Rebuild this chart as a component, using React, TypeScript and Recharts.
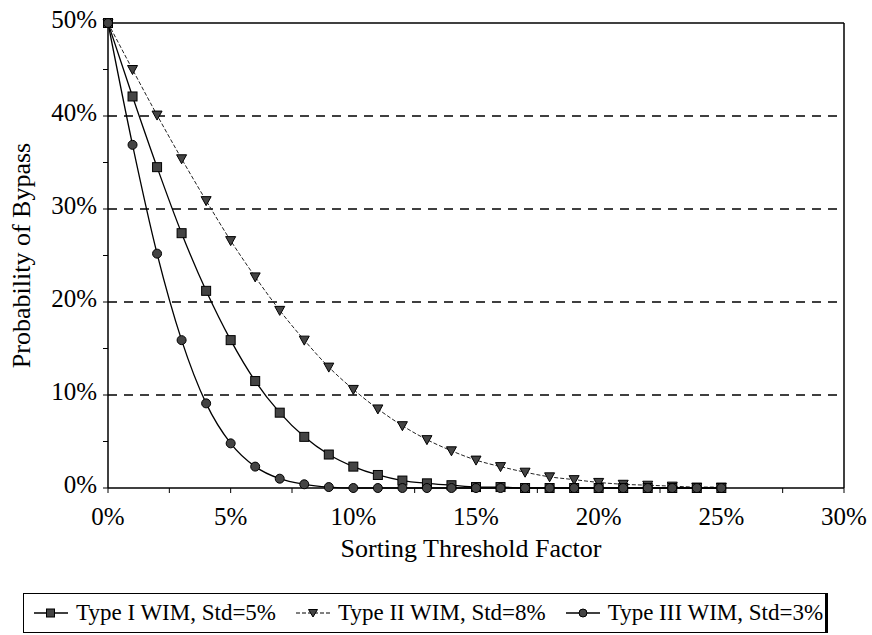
import React from 'react'
import { LineChart, Line, XAxis, YAxis, ReferenceLine } from 'recharts'

// sorting threshold factor (%)
const thresholds = [0, 1, 2, 3, 4, 5, 6, 7, 8, 9, 10, 11, 12, 13, 14, 15, 16, 17, 18, 19, 20, 21, 22, 23, 24, 25]

// probability of bypass (%)
const typeI = [50, 42.1, 34.5, 27.4, 21.2, 15.9, 11.5, 8.1, 5.5, 3.6, 2.3, 1.4, 0.8, 0.5, 0.3, 0.1, 0.1, 0, 0, 0, 0, 0, 0, 0, 0, 0]
const typeII = [50, 45.0, 40.1, 35.4, 30.9, 26.6, 22.7, 19.1, 15.9, 13.0, 10.6, 8.5, 6.7, 5.2, 4.0, 3.0, 2.3, 1.7, 1.2, 0.9, 0.6, 0.4, 0.3, 0.2, 0.1, 0.1]
const typeIII = [50, 36.9, 25.2, 15.9, 9.1, 4.8, 2.3, 1.0, 0.4, 0.1, 0, 0, 0, 0, 0, 0, 0, 0, 0, 0, 0, 0, 0, 0, 0, 0]

const seriesNames = ['Type I WIM, Std=5%', 'Type II WIM, Std=8%', 'Type III WIM, Std=3%']

const xTicks = [0, 2.5, 5, 7.5, 10, 12.5, 15, 17.5, 20, 22.5, 25, 27.5, 30]
const yTicks = [0, 5, 10, 15, 20, 25, 30, 35, 40, 45, 50]
const gridValues = [10, 20, 30, 40]

const data = thresholds.map((x, i) => ({ x, a: typeI[i], b: typeII[i], c: typeIII[i] }))

const FONT = '"Liberation Serif", "Times New Roman", serif'
const MARK_FILL = '#444'

function SquareDot(props: any) {
  const { cx, cy } = props
  if (cx == null || cy == null) return null
  return <rect x={cx - 4.5} y={cy - 4.5} width={9} height={9} fill={MARK_FILL} stroke="#000" strokeWidth={1} />
}

function TriangleDot(props: any) {
  const { cx, cy } = props
  if (cx == null || cy == null) return null
  return <path d={`M${cx - 5},${cy - 4} L${cx + 5},${cy - 4} L${cx},${cy + 5} Z`} fill={MARK_FILL} stroke="#000" strokeWidth={1} />
}

function CircleDot(props: any) {
  const { cx, cy } = props
  if (cx == null || cy == null) return null
  return <circle cx={cx} cy={cy} r={4.5} fill={MARK_FILL} stroke="#000" strokeWidth={1} />
}

function LegendSymbol({ kind }: { kind: number }) {
  return (
    <svg width={34} height={14} style={{ display: 'block' }}>
      <line x1={0} y1={7} x2={34} y2={7} stroke="#000" strokeWidth={kind === 1 ? 1 : 1.3}
        strokeDasharray={kind === 1 ? '4 2' : undefined} />
      {kind === 0 && <rect x={12.5} y={3} width={8} height={8} fill={MARK_FILL} stroke="#000" />}
      {kind === 1 && <path d="M12.5,3.5 L21.5,3.5 L17,11 Z" fill={MARK_FILL} stroke="#000" />}
      {kind === 2 && <circle cx={17} cy={7} r={4} fill={MARK_FILL} stroke="#000" />}
    </svg>
  )
}

export default function App() {
  return (
    <div style={{ position: 'absolute', left: 0, top: 0, width: 872, height: 635, background: '#fff', fontFamily: FONT }}>
      <LineChart width={872} height={590} data={data} margin={{ top: 23, right: 28, left: 0, bottom: 30 }}>
        <XAxis
          dataKey="x"
          type="number"
          domain={[0, 30]}
          ticks={xTicks}
          tickFormatter={(v: number) => (v % 5 === 0 ? `${v}%` : '')}
          interval={0}
          height={72}
          tickSize={5}
          tickMargin={14}
          axisLine={{ stroke: '#000', strokeWidth: 1.5 }}
          tickLine={{ stroke: '#000' }}
          tick={{ fill: '#000', fontSize: 25, fontFamily: FONT }}
          label={{ value: 'Sorting Threshold Factor', position: 'insideBottom', offset: 3, dx: -5,
            style: { fill: '#000', fontSize: 26, fontFamily: FONT } }}
        />
        <YAxis
          type="number"
          domain={[0, 50]}
          ticks={yTicks}
          tickFormatter={(v: number) => (v % 10 === 0 ? `${v}%` : '')}
          interval={0}
          width={108}
          tickSize={5}
          tickMargin={6}
          axisLine={{ stroke: '#000', strokeWidth: 1.5 }}
          tickLine={{ stroke: '#000' }}
          tick={{ fill: '#000', fontSize: 25, fontFamily: FONT, dy: -4 }}
          label={{ value: 'Probability of Bypass', angle: -90, position: 'insideLeft', offset: 21,
            style: { fill: '#000', fontSize: 26, fontFamily: FONT, textAnchor: 'middle' } }}
        />
        {gridValues.map(v => (
          <ReferenceLine key={v} y={v} stroke="#000" strokeWidth={1.3} strokeDasharray="9 7" />
        ))}
        <ReferenceLine y={50} stroke="#000" strokeWidth={1.5} />
        <ReferenceLine x={30} stroke="#000" strokeWidth={1.5} />
        <Line dataKey="b" name={seriesNames[1]} type="monotone" stroke="#222" strokeWidth={1}
          strokeDasharray="4 2" dot={<TriangleDot />} isAnimationActive={false} />
        <Line dataKey="a" name={seriesNames[0]} type="monotone" stroke="#000" strokeWidth={1.3}
          dot={<SquareDot />} isAnimationActive={false} />
        <Line dataKey="c" name={seriesNames[2]} type="monotone" stroke="#000" strokeWidth={1.3}
          dot={<CircleDot />} isAnimationActive={false} />
      </LineChart>
      <div style={{
        position: 'absolute', left: 23, top: 593, width: 805, height: 40, boxSizing: 'border-box',
        border: '1px solid #000', borderRightWidth: 3, display: 'flex', alignItems: 'center',
        paddingLeft: 10, fontSize: 23, color: '#000', whiteSpace: 'nowrap'
      }}>
        {seriesNames.map((name, i) => (
          <div key={name} style={{ display: 'flex', alignItems: 'center', marginRight: 20 }}>
            <LegendSymbol kind={i} />
            <span style={{ marginLeft: 8 }}>{name}</span>
          </div>
        ))}
      </div>
    </div>
  )
}
